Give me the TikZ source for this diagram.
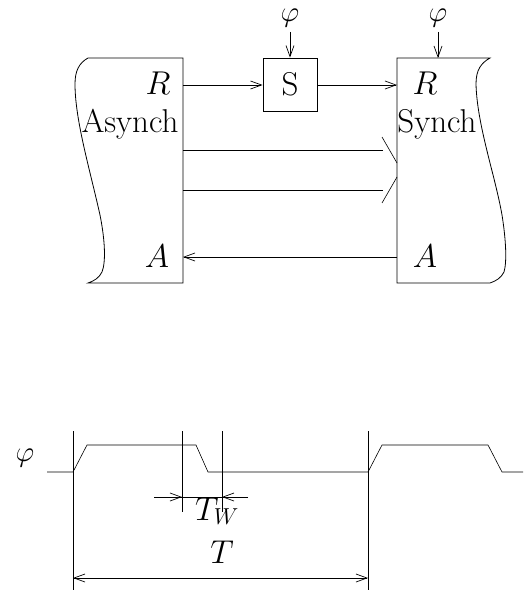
\RequirePackage{fix-cm}
\documentclass[tikz,border=0pt]{standalone}
\usetikzlibrary{arrows.meta}
\begin{document}
\begin{tikzpicture}[x=1pt,y=-1pt,
  line width=0.8pt,
  lbl/.style={inner sep=0pt,font=\fontsize{33}{38}\selectfont},
  philbl/.style={inner sep=0pt,font=\fontsize{29}{34}\selectfont},
  tip/.style={-{Straight Barb[length=11pt,width=8pt,line width=0.7pt]}},
  dtip/.style={{Straight Barb[length=11pt,width=8pt,line width=0.7pt]}-{Straight Barb[length=11pt,width=8pt,line width=0.7pt]}},
  thin line/.style={line width=0.6pt}]
\useasboundingbox (0,0) rectangle (523,591);

% ---- blocks ----
\draw (183,58) -- (88,58) .. controls (79,63) and (75,71) .. (75,84)
  .. controls (75,120) and (90,170) .. (100,215)
  .. controls (105,240) and (106,262) .. (102,272)
  .. controls (99,278) and (94,281) .. (88,283) -- (183,283) -- cycle;
\draw (397,58) -- (490,58) .. controls (481,63) and (476,70) .. (476,84)
  .. controls (477,125) and (495,175) .. (502,215)
  .. controls (506,240) and (507,262) .. (504,272)
  .. controls (501,278) and (496,281) .. (490,283) -- (397,283) -- cycle;

\node[lbl,anchor=base] (Rl) at (158,95) {$R$};
\node[lbl,anchor=base] (As) at (130,132) {Asynch};
\node[lbl,anchor=base] (Al) at (157,267) {$A$};
\node[lbl,anchor=base] (Rr) at (425,95) {$R$};
\node[lbl,anchor=base] (Sy) at (437,132) {Synch};
\node[lbl,anchor=base] (Ar) at (425,267) {$A$};

% ---- S box ----
\node[draw,minimum width=54pt,minimum height=53pt,inner sep=0pt,
      font=\fontsize{33}{38}\selectfont] (S) at (290,84.5) {S};
\node[philbl,anchor=base] (phi1) at (290,22) {$\varphi$};
\node[philbl,anchor=base] (phi2) at (438,22) {$\varphi$};

\coordinate (aR) at (183,85);
\coordinate (sR) at (397,85);
\coordinate (aA) at (183,257);
\coordinate (sA) at (397,257);
\coordinate (ph2t) at (438,58);

\draw[tip] (phi1.south |- 0,32) -- (S.north);
\draw[tip] (phi2.south |- 0,32) -- (ph2t);
\draw[tip] (aR) -- (S.west |- aR);
\draw[tip] (S.east |- sR) -- (sR);
\draw[tip] (sA) -- (aA);

% bus lines
\coordinate (b1a) at (183,150); \coordinate (b1b) at (383,150);
\coordinate (b2a) at (183,190); \coordinate (b2b) at (383,190);
\draw[thin line] (b1a) -- (b1b);
\draw[thin line] (b2a) -- (b2b);
\draw[thin line] (382,137) -- (397,163);
\draw[thin line] (382,203) -- (397,177);

% ---- timing diagram ----
\node[philbl] (phi3) at (25,458) {$\varphi$};
\draw[thin line] (47,472) -- (73,472) -- (87,445) -- (196,445) -- (208,472)
  -- (368,472) -- (382,445) -- (488,445) -- (502,472) -- (523,472);

\coordinate (v1t) at (73,431);  \coordinate (v1b) at (73,590);
\coordinate (v2t) at (368,431); \coordinate (v2b) at (368,590);
\coordinate (v3t) at (182,431); \coordinate (v3b) at (182,512);
\coordinate (v4t) at (222,431); \coordinate (v4b) at (222,512);
\draw[thin line] (v1t) -- (v1b);
\draw[thin line] (v2t) -- (v2b);
\draw[thin line] (v3t) -- (v3b);
\draw[thin line] (v4t) -- (v4b);

\coordinate (tw1) at (154,497);
\coordinate (tw2) at (248,497);
\draw[thin line] (tw1) -- (tw2);
\draw[thin line,tip] (tw1) -- (v3t |- tw1);
\draw[thin line,tip] (tw2) -- (v4t |- tw2);
\node[lbl,anchor=base] (Tw) at (217,520) {$T_W$};

\draw[thin line,dtip] (v1t |- 0,578) -- (v2t |- 0,578);
\node[lbl,anchor=base] (T) at (222,563) {$T$};
\end{tikzpicture}
\end{document}
